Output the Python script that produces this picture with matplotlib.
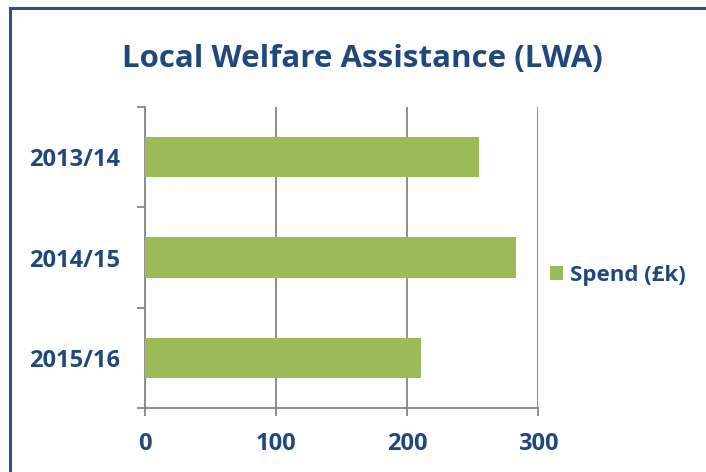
import matplotlib.pyplot as plt
from matplotlib.lines import Line2D

years = ['2013/14', '2014/15', '2015/16']
spend = [255, 283, 211]
xticks = [0, 100, 200, 300]

navy = '#1F497D'
green = '#9BBB59'
grey = '#868686'

plt.rcParams['font.family'] = ['Open Sans', 'DejaVu Sans']

fig = plt.figure(figsize=(7.06, 4.72), dpi=100)
W, H = 706, 472
ax = fig.add_axes([145 / W, 1 - 408 / H, (538 - 145) / W, (408 - 107) / H])

pos = list(range(len(years)))
ax.barh(pos, spend, height=0.4, color=green, zorder=3, label='Spend (£k)')
ax.set_ylim(len(years) - 0.5, -0.5)
ax.set_xlim(0, 300)

ax.set_xticks(xticks)
ax.set_xticklabels([str(t) for t in xticks])
ax.set_yticks([p - 0.5 for p in pos] + [len(years) - 0.5])
ax.set_yticklabels([])
ax.set_yticks(pos, minor=True)
ax.set_yticklabels(years, minor=True)
ax.tick_params(axis='y', which='minor', length=0, pad=18)
ax.tick_params(axis='y', which='major', length=6, width=1.3, color=grey)
ax.tick_params(axis='x', length=6, width=1.3, color=grey, pad=11)
for lbl in ax.get_xticklabels() + ax.get_yticklabels(minor=True):
    lbl.set_fontsize(17)
    lbl.set_fontweight('bold')
    lbl.set_color(navy)

ax.grid(axis='x', color=grey, linewidth=1.3, zorder=0)
for s in ['top', 'right']:
    ax.spines[s].set_visible(False)
for s in ['left', 'bottom']:
    ax.spines[s].set_color(grey)
    ax.spines[s].set_linewidth(1.3)

fig.text(362 / W, 1 - 59 / H, 'Local Welfare Assistance (LWA)', ha='center', va='center',
         fontsize=22.5, fontweight='bold', color=navy)

leg = fig.legend(loc='center left', bbox_to_anchor=(530 / W, 1 - 275 / H), frameon=False,
                 handlelength=0.6, handleheight=0.6, handletextpad=0.3,
                 prop={'size': 16, 'weight': 'bold'})
for t in leg.get_texts():
    t.set_color(navy)

# chart border (continues past the right and bottom edges)
fig.add_artist(Line2D([10 / W, 10 / W], [0, 1 - 8 / H], color='#2C5283', linewidth=2.2))
fig.add_artist(Line2D([10 / W, 1], [1 - 8 / H, 1 - 8 / H], color='#2C5283', linewidth=2.2))

fig.savefig('out.png', dpi=100)
